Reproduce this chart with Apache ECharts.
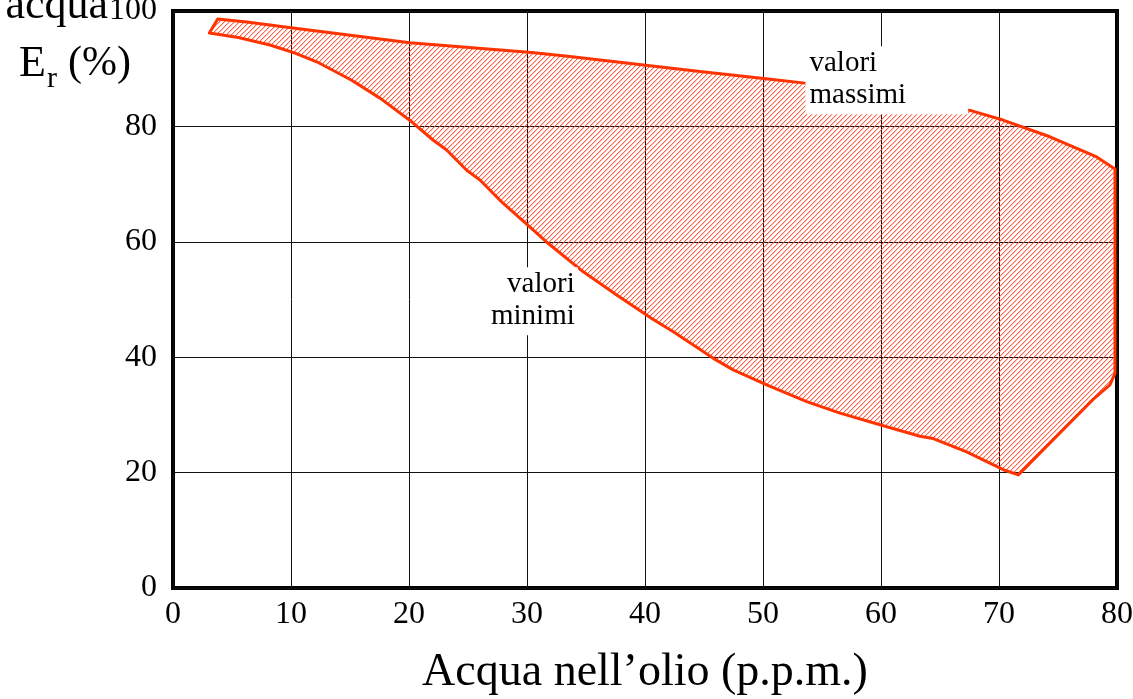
<!DOCTYPE html>
<html>
<head>
<meta charset="utf-8">
<script src="https://cdn.jsdelivr.net/npm/echarts@6/dist/echarts.min.js"></script>
<style>
  html, body { margin: 0; padding: 0; background: #fff; }
  #chart { width: 1133px; height: 699px; }
</style>
</head>
<body>
<div id="chart"></div>
<script>
// upper edge of the band (valori massimi), left to right
const maxX = [3.79, 6.25, 10.34, 20.08, 30.4, 33.64, 44.66, 50.45, 53.56, 67.69, 70.34, 74.32, 78.28, 79.83];
const maxY = [98.6, 98.1, 97.0, 94.5, 92.8, 92.1, 89.5, 88.2, 87.5, 82.7, 81.1, 78.2, 74.7, 72.6];
// closing edge on the right, top to bottom
const rightX = [79.83, 79.4, 77.97, 71.64];
const rightY = [37.2, 35.2, 32.7, 19.6];
// lower edge of the band (valori minimi), left to right
const minX = [3.08, 5.53, 8.22, 10.34, 12.18, 15.14, 17.54, 20.23, 22.06, 23.19, 24.89, 26.02, 27.71, 30.4,
  31.81, 34.77, 37.6, 40.57, 42.4, 45.79, 47.48, 50.31, 53.7, 56.53, 60.42, 63.3, 64.43, 67.26, 70.36];
const minY = [96.2, 95.4, 94.1, 92.7, 91.2, 88.0, 84.9, 80.8, 77.6, 75.9, 72.4, 70.7, 67.2, 62.3,
  59.7, 54.8, 50.8, 46.7, 44.4, 39.8, 37.8, 35.2, 32.3, 30.3, 28.0, 26.3, 25.9, 23.6, 20.5];

const xTicks = [0, 10, 20, 30, 40, 50, 60, 70, 80];
const yTicks = [0, 20, 40, 60, 80, 100];

const noteText = ["valori\nmassimi", "valori\nminimi"];
const noteAt = [[53.6, 93.9], [34.3, 55.6]];

const FONT = "'Liberation Serif', 'DejaVu Serif', serif";
const RED = "#ff3300";

// diagonal hatching tile
const makeHatch = () => {
    const n = 5;
    const cv = document.createElement("canvas");
    cv.width = n;
    cv.height = n;
    const ctx = cv.getContext("2d");
    const img = ctx.createImageData(n, n);
    for (let j = 0; j < n; j++) {
        for (let i = 0; i < n; i++) {
            const k = (i + j) % n;
            const p = (j * n + i) * 4;
            let a = 0;
            if (k === 0) a = 225;
            else if (k === 1) a = 80;
            img.data[p] = 255;
            img.data[p + 1] = 75;
            img.data[p + 2] = 45;
            img.data[p + 3] = a;
        }
    }
    ctx.putImageData(img, 0, 0);
    return { image: cv, repeat: "repeat" };
};

const polygon = [];
maxX.forEach((x, i) => polygon.push([x, maxY[i]]));
rightX.forEach((x, i) => polygon.push([x, rightY[i]]));
for (let i = minX.length - 1; i >= 0; i--) polygon.push([minX[i], minY[i]]);

const hatch = makeHatch();
const chart = echarts.init(document.getElementById("chart"));

const titleFont = "44px " + FONT;

const option = {
    animation: false,
    grid: {
        left: 173,
        right: 16,
        top: 11,
        bottom: 111,
        show: true,
        borderColor: "#000",
        borderWidth: 4,
        outerBoundsMode: "none"
    },
    xAxis: {
        type: "value",
        min: xTicks[0],
        max: xTicks[xTicks.length - 1],
        interval: 10,
        name: "Acqua nell\u2019olio (p.p.m.)",
        nameLocation: "middle",
        nameGap: 62,
        nameTextStyle: { fontFamily: FONT, fontSize: 46, color: "#000" },
        axisLine: { show: false },
        axisTick: { show: false },
        axisLabel: { fontFamily: FONT, fontSize: 32, color: "#000", margin: 11 },
        splitLine: { show: true, lineStyle: { color: "#111", width: 1 } }
    },
    yAxis: {
        type: "value",
        min: yTicks[0],
        max: yTicks[yTicks.length - 1],
        interval: 20,
        axisLine: { show: false },
        axisTick: { show: false },
        axisLabel: { fontFamily: FONT, fontSize: 32, color: "#000", margin: 16 },
        splitLine: { show: true, lineStyle: { color: "#111", width: 1 } }
    },
    graphic: [
        {
            type: "text",
            right: 1133 - 108,
            top: -16,
            style: { text: "acqua", font: titleFont, fill: "#000" }
        },
        {
            type: "text",
            left: 19,
            top: 42,
            style: { text: "E", font: titleFont, fill: "#000" }
        },
        {
            type: "text",
            left: 47,
            top: 64,
            style: { text: "r", font: "30px " + FONT, fill: "#000" }
        },
        {
            type: "text",
            left: 68,
            top: 43,
            style: { text: "(%)", font: "42px " + FONT, fill: "#000" }
        }
    ],
    series: [
        {
            type: "custom",
            data: polygon,
            silent: true,
            z: 3,
            renderItem: (params, api) => {
                if (params.dataIndex !== 0) return null;
                return {
                    type: "polygon",
                    shape: { points: polygon.map(p => api.coord(p)) },
                    style: { fill: hatch, stroke: RED, lineWidth: 3, lineJoin: "round" }
                };
            }
        },
        {
            type: "scatter",
            silent: true,
            symbolSize: 0,
            z: 5,
            data: noteAt.map((p, i) => ({
                value: p,
                label: {
                    show: true,
                    formatter: noteText[i],
                    position: [0, 0],
                    align: i === 0 ? "left" : "right",
                    verticalAlign: "top",
                    fontFamily: FONT,
                    fontSize: 29,
                    lineHeight: 32,
                    color: "#000",
                    opacity: 1,
                    textBorderWidth: 0,
                    backgroundColor: "#fff",
                    padding: i === 0 ? [1, 62, 3, 4] : [1, 3, 3, 6]
                }
            }))
        }
    ]
};

chart.setOption(option);
</script>
</body>
</html>
